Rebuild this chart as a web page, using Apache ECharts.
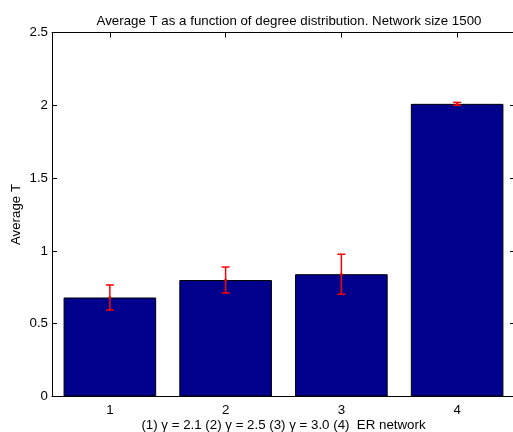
<!DOCTYPE html>
<html>
<head>
<meta charset="utf-8">
<script src="https://cdn.jsdelivr.net/npm/echarts@6/dist/echarts.min.js"></script>
<style>
  html, body { margin: 0; padding: 0; background: #fff; }
  #chart { width: 513px; height: 432px; }
</style>
</head>
<body>
<div id="chart"></div>
<script>
// Mean T per degree distribution, with its error half-width
const categories = ['1', '2', '3', '4'];
const meanT = [0.68, 0.80, 0.84, 2.01];
const errT = [0.086, 0.089, 0.137, 0.01];
const yTicks = [0, 0.5, 1, 1.5, 2, 2.5];

const FONT = '"Liberation Sans", Arial, Helvetica, sans-serif';
const FS = 13.3;
const errorData = categories.map((c, i) => [i, meanT[i], errT[i]]);

const chart = echarts.init(document.getElementById('chart'), null, { renderer: 'canvas' });

const frameLine = { show: true, onZero: false, lineStyle: { color: '#000', width: 1 } };
const inTick = { show: true, inside: true, length: 5, lineStyle: { color: '#000', width: 1 } };

chart.setOption({
  animation: false,
  backgroundColor: '#fff',
  title: {
    text: 'Average T as a function of degree distribution. Network size 1500',
    left: 284,
    textAlign: 'center',
    top: 10,
    textStyle: { fontFamily: FONT, fontSize: FS, fontWeight: 'normal', color: '#000' }
  },
  grid: {
    left: 52, right: -2, top: 32.5, bottom: 35.5,
    containLabel: false,
    outerBoundsMode: 'none'
  },
  xAxis: [
    {
      type: 'category',
      data: categories,
      position: 'bottom',
      boundaryGap: true,
      axisLine: frameLine,
      axisTick: Object.assign({ alignWithLabel: true }, inTick),
      axisLabel: { fontFamily: FONT, fontSize: FS, color: '#000', margin: 7 },
      name: '(1) \u03b3 = 2.1 (2) \u03b3 = 2.5 (3) \u03b3 = 3.0 (4)  ER network',
      nameLocation: 'middle',
      nameGap: 22,
      nameMoveOverlap: false,
      nameTextStyle: { fontFamily: FONT, fontSize: FS, color: '#000' },
      splitLine: { show: false }
    },
    {
      type: 'category',
      data: categories,
      position: 'top',
      boundaryGap: true,
      axisLine: frameLine,
      axisTick: Object.assign({ alignWithLabel: true }, inTick),
      axisLabel: { show: false },
      splitLine: { show: false }
    }
  ],
  yAxis: [
    {
      type: 'value',
      min: yTicks[0],
      max: yTicks[yTicks.length - 1],
      interval: 0.5,
      position: 'left',
      axisLine: frameLine,
      axisTick: inTick,
      axisLabel: { fontFamily: FONT, fontSize: FS, color: '#000', margin: 4,
        formatter: v => String(v) },
      name: 'Average T',
      nameLocation: 'middle',
      nameRotate: 90,
      nameGap: 29,
      nameMoveOverlap: false,
      nameTextStyle: { fontFamily: FONT, fontSize: FS, color: '#000' },
      splitLine: { show: false }
    },
    {
      type: 'value',
      min: yTicks[0],
      max: yTicks[yTicks.length - 1],
      interval: 0.5,
      position: 'right',
      axisLine: frameLine,
      axisTick: inTick,
      axisLabel: { show: false },
      splitLine: { show: false }
    }
  ],
  series: [
    {
      type: 'bar',
      data: meanT,
      barWidth: '80%',
      itemStyle: { color: '#00008c', borderColor: '#000', borderWidth: 1 },
      z: 2
    },
    {
      type: 'custom',
      data: errorData,
      z: 3,
      renderItem: function (params, api) {
        const x = api.value(0);
        const m = api.value(1);
        const e = api.value(2);
        const hi = api.coord([x, m + e]);
        const lo = api.coord([x, m - e]);
        const mid = api.coord([x, m]);
        const cap = 4;
        const style = { stroke: '#ff0000', lineWidth: 1.5 };
        return {
          type: 'group',
          children: [
            { type: 'line', shape: { x1: hi[0], y1: hi[1], x2: lo[0], y2: lo[1] }, style },
            { type: 'line', shape: { x1: hi[0] - cap, y1: hi[1], x2: hi[0] + cap, y2: hi[1] }, style },
            { type: 'line', shape: { x1: lo[0] - cap, y1: lo[1], x2: lo[0] + cap, y2: lo[1] }, style },
            { type: 'circle', shape: { cx: mid[0], cy: mid[1], r: 1.3 }, style: { fill: '#ff0000' } }
          ]
        };
      }
    }
  ]
});
</script>
</body>
</html>
